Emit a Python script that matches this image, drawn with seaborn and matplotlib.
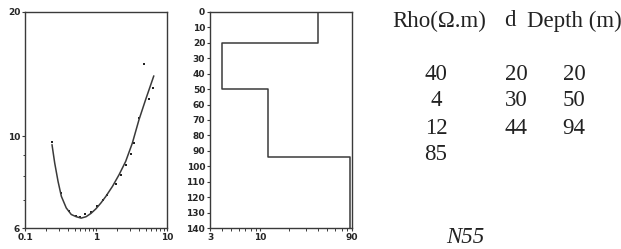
import numpy as np
import pandas as pd
import seaborn as sns
import matplotlib.pyplot as plt
from matplotlib.ticker import FixedLocator, NullFormatter

# apparent resistivity sounding (measured points)
ab2_obs = [0.24, 0.318, 0.411, 0.515, 0.604, 0.71, 0.851, 1.03, 1.24, 1.41,
           1.90, 2.28, 2.65, 3.08, 3.43, 4.03, 4.72, 5.55, 6.31]
rho_obs = [9.67, 7.28, 6.58, 6.40, 6.39, 6.47, 6.56, 6.78, 7.0, 7.22,
           7.67, 8.08, 8.51, 9.05, 9.63, 11.1, 15.0, 12.3, 13.1]

# fitted curve
ab2_fit = [0.240, 0.262, 0.292, 0.325, 0.381, 0.448, 0.526, 0.618, 0.725, 0.851,
           1.0, 1.174, 1.379, 1.708, 2.117, 2.62, 3.25, 4.03, 4.99, 6.52]
rho_fit = [9.55, 8.62, 7.78, 7.16, 6.71, 6.47, 6.39, 6.34, 6.39, 6.51,
           6.68, 6.90, 7.16, 7.57, 8.08, 8.70, 9.63, 10.97, 12.26, 14.01]

# layered model
layer_rho = [40, 4, 12, 85]
layer_d = [20, 30, 44]
layer_depth = [20, 50, 94]
max_depth = 140

sns.set_style('white')
plt.rcParams['font.family'] = ['DejaVu Sans']

fig = plt.figure(figsize=(6.21, 2.49), dpi=100)
line_col = '#3a3a3a'
tick_font = dict(fontsize=6.5, fontweight='bold')

# --- left panel: sounding curve
ax1 = fig.add_axes([25 / 621, 1 - 228 / 249, 142 / 621, 216 / 249])
df_obs = pd.DataFrame({'ab2': ab2_obs, 'rho': rho_obs})
df_fit = pd.DataFrame({'ab2': ab2_fit, 'rho': rho_fit})
sns.lineplot(data=df_fit, x='ab2', y='rho', sort=False, color=line_col, lw=1.1, ax=ax1)
sns.scatterplot(data=df_obs, x='ab2', y='rho', color='#222222', marker='s', s=4,
                linewidth=0, ax=ax1)
ax1.set_xscale('log')
ax1.set_yscale('log')
ax1.set_xlim(0.1, 10)
ax1.set_ylim(6, 20)
ax1.xaxis.set_major_locator(FixedLocator([0.1, 1, 10]))
ax1.set_xticklabels(['0.1', '1', '10'], **tick_font)
ax1.xaxis.set_minor_locator(FixedLocator([k * 0.1 for k in range(2, 10)] + list(range(2, 10))))
ax1.xaxis.set_minor_formatter(NullFormatter())
ax1.yaxis.set_major_locator(FixedLocator([6, 10, 20]))
ax1.set_yticklabels(['6', '10', '20'], **tick_font)
ax1.yaxis.set_minor_locator(FixedLocator([7, 8, 9]))
ax1.yaxis.set_minor_formatter(NullFormatter())

# --- middle panel: layered model
ax2 = fig.add_axes([210 / 621, 1 - 228 / 249, 142 / 621, 216 / 249])
tops = [0] + layer_depth
bots = layer_depth + [max_depth]
xs, ys = [], []
for r, t, b in zip(layer_rho, tops, bots):
    xs += [r, r]
    ys += [t, b]
sns.lineplot(x=xs, y=ys, sort=False, estimator=None, color=line_col, lw=1.1, ax=ax2)
ax2.set_xscale('log')
ax2.set_xlim(3, 90)
ax2.set_ylim(max_depth, 0)
ax2.xaxis.set_major_locator(FixedLocator([3, 10, 90]))
ax2.set_xticklabels(['3', '10', '90'], **tick_font)
ax2.xaxis.set_minor_locator(FixedLocator(list(range(4, 10)) + list(range(20, 90, 10))))
ax2.xaxis.set_minor_formatter(NullFormatter())
ax2.set_yticks(range(0, max_depth + 1, 10))
ax2.set_yticklabels([str(v) for v in range(0, max_depth + 1, 10)], **tick_font)

for ax in (ax1, ax2):
    ax.set_xlabel('')
    ax.set_ylabel('')
    for s in ax.spines.values():
        s.set_color(line_col)
        s.set_linewidth(1.0)
    ax.tick_params(which='major', direction='out', length=2.5, width=0.8, color=line_col,
                   pad=1, bottom=True, left=True)
    ax.tick_params(which='minor', direction='out', length=1.8, width=0.7, color=line_col,
                   bottom=True, left=True)

# --- model table
serif = dict(family='Liberation Serif', fontsize=16.5, color='#222222')
W, H = 621, 249
fig.text(392 / W, 1 - 21 / H, 'Rho(\u03a9.m)', ha='left', va='center', **serif)
fig.text(510 / W, 1 - 21 / H, 'd', ha='center', va='center', **serif)
fig.text(527 / W, 1 - 21 / H, 'Depth (m)', ha='left', va='center', **serif)
row_y = [75, 101, 128, 155]
for i, r in enumerate(layer_rho):
    fig.text(436 / W, 1 - row_y[i] / H, str(r), ha='center', va='center', **serif)
for i, (d, z) in enumerate(zip(layer_d, layer_depth)):
    fig.text(516 / W, 1 - row_y[i] / H, str(d), ha='center', va='center', **serif)
    fig.text(574 / W, 1 - row_y[i] / H, str(z), ha='center', va='center', **serif)
fig.text(465 / W, 1 - 237 / H, 'N55', ha='center', va='center', style='italic', **serif)

fig.savefig('out.png', dpi=100)
